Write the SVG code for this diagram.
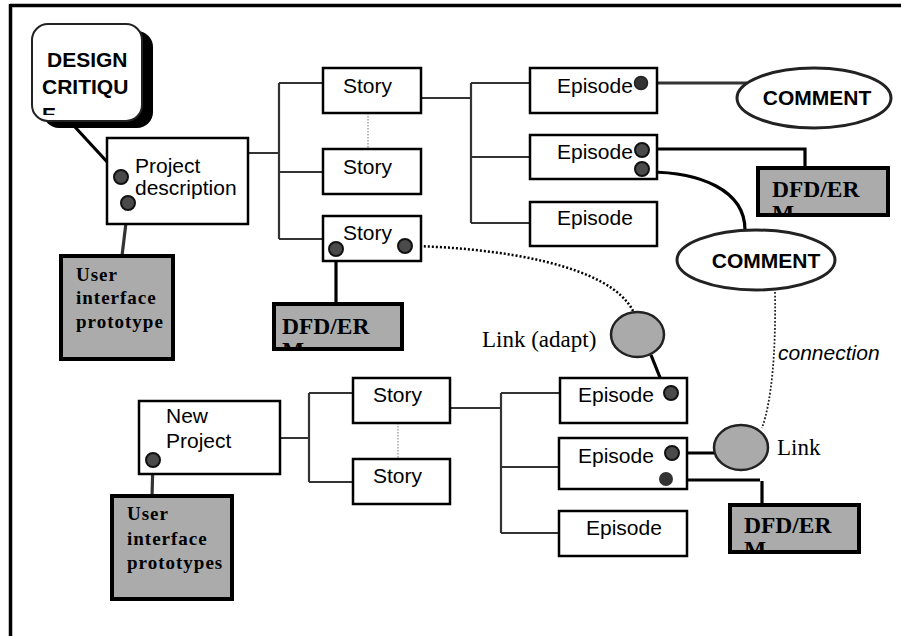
<svg xmlns="http://www.w3.org/2000/svg" width="901" height="636" viewBox="0 0 901 636">
<style>
.box{fill:#fff;stroke:#000;stroke-width:2.5}
.gbox{fill:#ababab;stroke:#000;stroke-width:4}
.ell{fill:#fff;stroke:#222;stroke-width:3}
.link{fill:#aaa;stroke:#222;stroke-width:2.5}
.dot{fill:#4a4a4a;stroke:#111;stroke-width:2}
.tree{fill:none;stroke:#333;stroke-width:2.2}
.thick{fill:none;stroke:#000;stroke-width:3.2}
.dotted{fill:none;stroke:#000;stroke-width:2.5;stroke-dasharray:2 2}
.thin{fill:none;stroke:#777;stroke-width:1;stroke-dasharray:1.5 1.5}
.t{font-family:"Liberation Sans",Arial,sans-serif;font-size:21px;fill:#000}
.tb{font-family:"Liberation Sans",Arial,sans-serif;font-size:21px;font-weight:bold;fill:#000}
.ts{font-family:"Liberation Serif","Times New Roman",serif;font-size:19px;font-weight:bold;letter-spacing:1px;fill:#000}
.tdfd{font-family:"Liberation Serif","Times New Roman",serif;font-size:23.5px;font-weight:bold;fill:#000}
.tr{font-family:"Liberation Serif","Times New Roman",serif;font-size:23px;fill:#000}
.ti{font-family:"Liberation Sans",Arial,sans-serif;font-size:21px;font-style:italic;fill:#000}
</style>
<defs>
<clipPath id="cDC"><rect x="33" y="25" width="108" height="90"/></clipPath>
<clipPath id="cD1"><rect x="760" y="170" width="126" height="43"/></clipPath>
<clipPath id="cD2"><rect x="275" y="305" width="126" height="43"/></clipPath>
<clipPath id="cD3"><rect x="732" y="507" width="125" height="43"/></clipPath>
</defs>
<rect width="901" height="636" fill="#fff"/>
<g id="frame">
<line x1="10" y1="5.5" x2="901" y2="5.5" stroke="#000" stroke-width="3.5"/>
<line x1="10.5" y1="4" x2="10.5" y2="636" stroke="#000" stroke-width="3.5"/>
</g>

<g id="connectors">
<path class="tree" d="M248,153 H279 M279,83 V239 M279,83 H323 M279,172 H323 M279,239 H323"/>
<path class="tree" d="M421,98 H471 M471,83 V223 M471,83 H530 M471,157 H530 M471,223 H530"/>
<line class="thin" x1="368" y1="113" x2="368" y2="149"/>
<path class="tree" d="M280,438 H309 M309,393 V482 M309,393 H353 M309,482 H353"/>
<path class="tree" d="M450,408 H501 M501,393 V533 M501,393 H560 M501,467 H559 M501,533 H559"/>
<line class="thin" x1="398" y1="423" x2="398" y2="459"/>
<line class="thick" x1="75" y1="127" x2="121" y2="177"/>
<line class="thick" x1="128" y1="206" x2="122" y2="256" style="stroke:#333"/>
<line class="thick" x1="336" y1="249" x2="336" y2="304"/>
<path class="dotted" d="M412,246 C500,248 610,265 633,311"/>
<line x1="641" y1="83" x2="747" y2="83" stroke="#333" stroke-width="3"/>
<path class="thick" d="M648,149 H805 V168"/>
<path class="thick" d="M648,172 C700,172 745,190 745,230"/>
<path d="M775,292 C776,350 772,400 762,428" fill="none" stroke="#222" stroke-width="1.8" stroke-dasharray="1.8 1.8"/>
<line class="thick" x1="651" y1="355" x2="663" y2="385"/>
<line class="thick" x1="672" y1="453" x2="715" y2="453"/>
<path class="thick" d="M666,480 H760 M762,481 V505"/>
<line class="thick" x1="153" y1="460" x2="152" y2="497" style="stroke:#333"/>
</g>

<g id="design-critique">
<rect x="43" y="31" width="110" height="97" rx="16" fill="#000"/>
<rect x="32" y="24" width="110" height="97" rx="16" fill="#fff" stroke="#222" stroke-width="2"/>
<g clip-path="url(#cDC)">
<text class="tb" x="47" y="67">DESIGN</text>
<text class="tb" x="42" y="94">CRITIQU</text>
<text class="tb" x="42" y="122">E</text>
</g>
</g>

<g id="project-description">
<rect class="box" x="107" y="138" width="141" height="86"/>
<text class="t" x="135" y="173">Project</text>
<text class="t" x="135" y="195">description</text>
<circle class="dot" cx="121" cy="177" r="7"/>
<circle class="dot" cx="128" cy="203" r="7"/>
</g>

<g id="ui-prototype">
<rect class="gbox" x="61" y="256" width="112" height="103"/>
<text class="ts" x="76" y="281">User</text>
<text class="ts" x="76" y="304">interface</text>
<text class="ts" x="76" y="328">prototype</text>
</g>

<g id="story1"><rect class="box" x="323" y="68" width="98" height="45"/><text class="t" x="343" y="93">Story</text></g>
<g id="story2"><rect class="box" x="323" y="149" width="98" height="45"/><text class="t" x="343" y="174">Story</text></g>
<g id="story3"><rect class="box" x="323" y="216" width="98" height="45"/><text class="t" x="343" y="240">Story</text>
<circle class="dot" cx="336" cy="249" r="7"/><circle class="dot" cx="405" cy="246" r="7"/></g>

<g id="dfd-mid">
<rect class="gbox" x="274" y="304" width="128" height="45"/>
<g clip-path="url(#cD2)"><text class="tdfd" x="282" y="334">DFD/ER</text><text class="tdfd" x="282" y="358">M</text></g>
</g>

<g id="episode1"><rect class="box" x="530" y="68" width="127" height="45"/><text class="t" x="557" y="93">Episode</text>
<circle cx="641" cy="83" r="6.5" fill="#333" stroke="#222" stroke-width="1.5"/></g>
<g id="episode2"><rect class="box" x="530" y="135" width="127" height="44"/><text class="t" x="557" y="159">Episode</text>
<circle class="dot" cx="642" cy="150" r="7"/><circle class="dot" cx="642" cy="169" r="7"/></g>
<g id="episode3"><rect class="box" x="530" y="202" width="127" height="44"/><text class="t" x="557" y="225">Episode</text></g>

<g id="comment1"><ellipse class="ell" cx="814" cy="98" rx="77" ry="30"/><text class="tb" x="817" y="105" text-anchor="middle">COMMENT</text></g>
<g id="dfd-top">
<rect class="gbox" x="758" y="168" width="130" height="47"/>
<g clip-path="url(#cD1)"><text class="tdfd" x="772" y="197">DFD/ER</text><text class="tdfd" x="772" y="221">M</text></g>
</g>
<g id="comment2"><ellipse class="ell" cx="756" cy="260" rx="79" ry="30"/><text class="tb" x="766" y="268" text-anchor="middle">COMMENT</text></g>
<text class="ti" x="778" y="360">connection</text>

<g id="link-adapt"><ellipse class="link" cx="637.5" cy="334.5" rx="26.5" ry="22.5"/><text class="tr" x="482" y="347">Link (adapt)</text></g>

<g id="new-project">
<rect class="box" x="139" y="401" width="141" height="73"/>
<text class="t" x="166" y="423">New</text>
<text class="t" x="166" y="448">Project</text>
<circle class="dot" cx="153" cy="460" r="7"/>
</g>
<g id="ui-prototypes">
<rect class="gbox" x="112" y="496" width="120" height="103"/>
<text class="ts" x="127" y="520">User</text>
<text class="ts" x="127" y="545">interface</text>
<text class="ts" x="127" y="569">prototypes</text>
</g>

<g id="storyB1"><rect class="box" x="353" y="378" width="97" height="45"/><text class="t" x="373" y="402">Story</text></g>
<g id="storyB2"><rect class="box" x="353" y="459" width="97" height="45"/><text class="t" x="373" y="483">Story</text></g>

<g id="episodeB1"><rect class="box" x="560" y="378" width="127" height="45"/><text class="t" x="578" y="402">Episode</text>
<circle class="dot" cx="671" cy="393" r="7"/></g>
<g id="episodeB2"><rect class="box" x="559" y="438" width="128" height="51"/><text class="t" x="578" y="463">Episode</text>
<circle class="dot" cx="672" cy="453" r="7"/><circle cx="666" cy="479" r="7" fill="#333"/></g>
<g id="episodeB3"><rect class="box" x="559" y="511" width="128" height="45"/><text class="t" x="586" y="535">Episode</text></g>

<g id="link"><ellipse class="link" cx="741" cy="447.5" rx="27" ry="22.5"/><text class="tr" x="777" y="455">Link</text></g>

<g id="dfd-bottom">
<rect class="gbox" x="730" y="505" width="129" height="47"/>
<g clip-path="url(#cD3)"><text class="tdfd" x="744" y="533">DFD/ER</text><text class="tdfd" x="744" y="557">M</text></g>
</g>
</svg>
